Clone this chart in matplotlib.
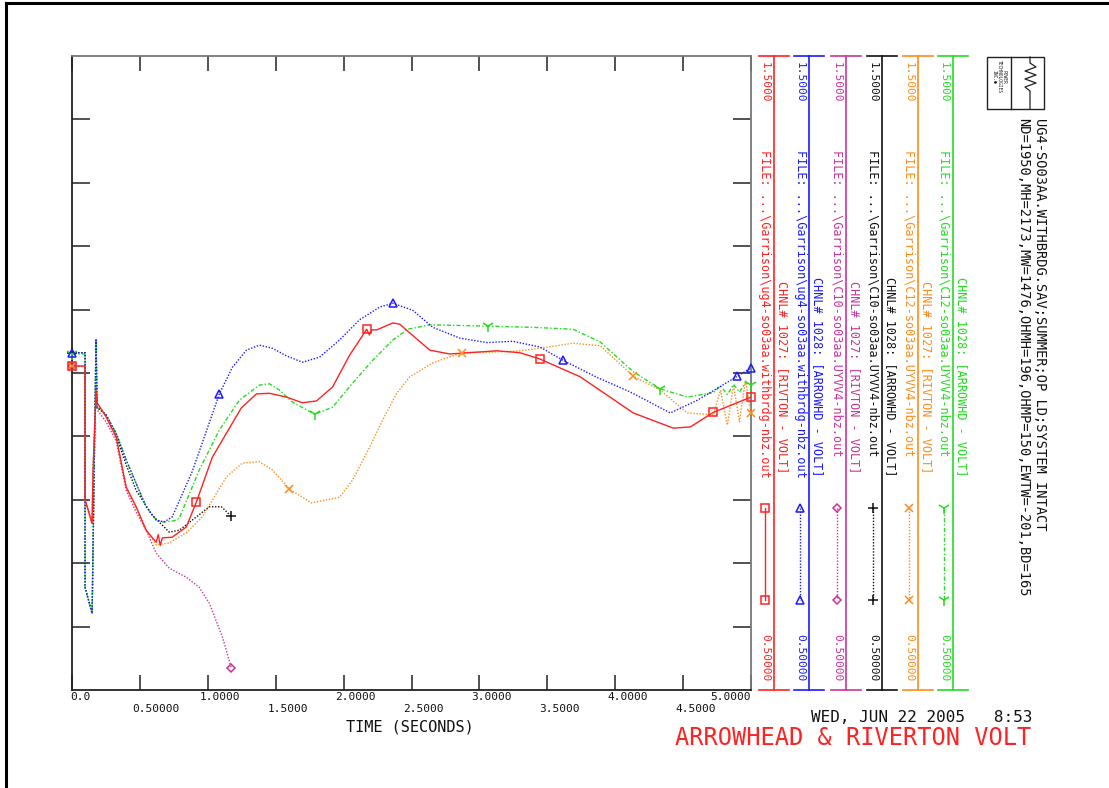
import matplotlib
matplotlib.use('Agg')
import matplotlib.pyplot as plt
from matplotlib.lines import Line2D
from matplotlib.patches import Rectangle
import matplotlib.transforms as mtransforms
import numpy as np

# ---------------- data ----------------
red_t = [0, 0.096, 0.096, 0.148, 0.155, 0.177, 0.185, 0.251, 0.325, 0.399, 0.472, 0.546, 0.620, 0.635, 0.650, 0.665,
         0.738, 0.841, 0.915, 1.033, 1.137, 1.247, 1.358, 1.454, 1.579, 1.697, 1.801, 1.919, 2.044, 2.170, 2.190,
         2.207, 2.244, 2.362, 2.413, 2.635, 2.782, 3.129, 3.299, 3.446, 3.742, 4.133, 4.428, 4.554, 4.723, 5.0]
red_v = [1.011, 1.011, 0.800, 0.763, 0.845, 0.972, 0.953, 0.931, 0.899, 0.820, 0.789, 0.752, 0.733, 0.745, 0.728, 0.740,
         0.741, 0.757, 0.796, 0.867, 0.905, 0.945, 0.967, 0.968, 0.962, 0.953, 0.956, 0.978, 1.028, 1.069, 1.060,
         1.068, 1.068, 1.079, 1.077, 1.036, 1.030, 1.035, 1.032, 1.022, 0.994, 0.937, 0.913, 0.915, 0.938, 0.962]
red_marks = [0, 0.915, 2.170, 3.446, 4.723, 5.0]

blue_t = [0, 0.096, 0.096, 0.148, 0.177, 0.185, 0.251, 0.325, 0.399, 0.472, 0.546, 0.620, 0.679, 0.738, 0.886,
          1.085, 1.181, 1.284, 1.380, 1.476, 1.579, 1.697, 1.823, 1.970, 2.118, 2.266, 2.362, 2.509, 2.657, 2.856,
          3.055, 3.247, 3.446, 3.616, 3.867, 4.111, 4.406, 4.605, 4.900, 5.0]
blue_v = [1.032, 1.032, 0.662, 0.621, 1.052, 0.946, 0.934, 0.905, 0.863, 0.826, 0.789, 0.768, 0.765, 0.773, 0.845,
          0.967, 1.009, 1.036, 1.044, 1.039, 1.027, 1.017, 1.025, 1.052, 1.084, 1.104, 1.110, 1.099, 1.072, 1.055,
          1.048, 1.050, 1.041, 1.020, 0.993, 0.970, 0.937, 0.957, 0.995, 1.008]
blue_marks = [0, 1.085, 2.362, 3.616, 4.900, 5.0]

magenta_t = [0, 0.096, 0.096, 0.148, 0.155, 0.177, 0.185, 0.251, 0.325, 0.399, 0.472, 0.546, 0.620, 0.716, 0.841,
             0.937, 1.011, 1.107, 1.173]
magenta_v = [1.011, 1.011, 0.800, 0.763, 0.845, 0.972, 0.942, 0.923, 0.893, 0.815, 0.781, 0.752, 0.716, 0.692, 0.678,
             0.662, 0.637, 0.584, 0.535]
magenta_marks = [0, 1.173]

black_t = [0, 0.096, 0.096, 0.148, 0.177, 0.185, 0.251, 0.325, 0.399, 0.472, 0.590, 0.716, 0.790, 0.886, 1.011,
           1.100, 1.173]
black_v = [1.032, 1.032, 0.662, 0.621, 1.052, 0.946, 0.934, 0.902, 0.855, 0.815, 0.776, 0.749, 0.752, 0.768, 0.789,
           0.789, 0.774]
black_marks = [0, 1.173]

orange_t = [0, 0.096, 0.096, 0.148, 0.155, 0.177, 0.185, 0.251, 0.325, 0.399, 0.472, 0.546, 0.620, 0.716, 0.841,
            0.959, 1.137, 1.255, 1.380, 1.476, 1.601, 1.764, 1.875, 1.970, 2.066, 2.192, 2.288, 2.391, 2.487, 2.657,
            2.871, 3.100, 3.299, 3.446, 3.690, 3.889, 4.133, 4.332, 4.531, 4.723, 4.775, 4.826, 4.871, 4.915, 4.959,
            5.0]
orange_v = [1.011, 1.011, 0.800, 0.763, 0.845, 0.972, 0.953, 0.931, 0.899, 0.820, 0.789, 0.752, 0.729, 0.732, 0.748,
            0.773, 0.836, 0.858, 0.860, 0.847, 0.817, 0.795, 0.800, 0.804, 0.831, 0.883, 0.926, 0.968, 0.994, 1.016,
            1.032, 1.033, 1.035, 1.039, 1.047, 1.043, 0.995, 0.973, 0.937, 0.934, 0.973, 0.918, 0.981, 0.923, 0.989,
            0.937]
orange_marks = [0, 1.601, 2.871, 4.133, 5.0]

green_t = [0, 0.096, 0.096, 0.148, 0.177, 0.185, 0.251, 0.325, 0.399, 0.472, 0.546, 0.620, 0.679, 0.753, 0.790,
           0.937, 1.085, 1.232, 1.380, 1.454, 1.528, 1.624, 1.786, 1.919, 2.066, 2.214, 2.362, 2.472, 2.635, 3.063,
           3.395, 3.690, 3.889, 4.133, 4.332, 4.531, 4.723, 4.775, 4.826, 4.871, 4.915, 4.959, 5.0]
green_v = [1.030, 1.030, 0.662, 0.621, 1.052, 0.946, 0.934, 0.905, 0.863, 0.826, 0.789, 0.768, 0.765, 0.767, 0.771,
           0.847, 0.910, 0.957, 0.981, 0.983, 0.973, 0.954, 0.935, 0.946, 0.984, 1.020, 1.052, 1.069, 1.076, 1.074,
           1.072, 1.069, 1.049, 1.002, 0.975, 0.962, 0.969, 0.980, 0.966, 0.982, 0.970, 0.985, 0.981]
green_marks = [0, 1.786, 3.063, 4.332, 5.0]

xtick_vals = [0.0, 0.5, 1.0, 1.5, 2.0, 2.5, 3.0, 3.5, 4.0, 4.5, 5.0]
xtick_labels = ["0.0", "0.50000", "1.0000", "1.5000", "2.0000", "2.5000", "3.0000", "3.5000", "4.0000", "4.5000", "5.0000"]
ytick_vals = [0.6, 0.7, 0.8, 0.9, 1.0, 1.1, 1.2, 1.3, 1.4]

legend_files = [r"FILE: ...\Garrison\ug4-so03aa.withbrdg-nbz.out",
                r"FILE: ...\Garrison\ug4-so03aa.withbrdg-nbz.out",
                r"FILE: ...\Garrison\C10-so03aa.UYVV4-nbz.out",
                r"FILE: ...\Garrison\C10-so03aa.UYVV4-nbz.out",
                r"FILE: ...\Garrison\C12-so03aa.UYVV4-nbz.out",
                r"FILE: ...\Garrison\C12-so03aa.UYVV4-nbz.out"]
legend_chnl = ["CHNL# 1027: [RIVTON - VOLT]", "CHNL# 1028: [ARROWHD - VOLT]",
               "CHNL# 1027: [RIVTON - VOLT]", "CHNL# 1028: [ARROWHD - VOLT]",
               "CHNL# 1027: [RIVTON - VOLT]", "CHNL# 1028: [ARROWHD - VOLT]"]
legend_max = "1.5000"
legend_min = "0.50000"

title1 = "UG4-SO03AA.WITHBRDG.SAV;SUMMER;OP LD;SYSTEM INTACT"
title2 = "ND=1950,MH=2173,MW=1476,OHMH=196,OHMP=150,EWTW=-201,BD=165"
date_text = "WED, JUN 22 2005   8:53"
main_title = "ARROWHEAD & RIVERTON VOLT"
xlabel = "TIME (SECONDS)"

# ---------------- figure ----------------
plt.rcParams['font.family'] = ['DejaVu Sans Mono']
W, H = 1109, 788
fig = plt.figure(figsize=(W / 100, H / 100), dpi=100)
fig.patch.set_facecolor('white')


def fx(px):
    return px / W


def fy(py):
    return 1 - py / H


AX_L, AX_R, AX_T, AX_B = 72, 751, 56, 690
ax = fig.add_axes([fx(AX_L), fy(AX_B), fx(AX_R) - fx(AX_L), fy(AX_T) - fy(AX_B)])
ax.set_xlim(0, 5)
ax.set_ylim(0.5, 1.5)

C_RED, C_BLUE, C_MAG, C_BLK, C_ORG, C_GRN = '#ff2222', '#1a1aff', '#cc3399', '#111111', '#ff8c1a', '#22dd22'
DOT = (0, (1.0, 1.2))
DASHDOT = (0, (3, 1.5, 1, 1.5))

series = [
    (magenta_t, magenta_v, magenta_marks, C_MAG, DOT, 'D', 4, 'none'),
    (black_t, black_v, black_marks, C_BLK, DOT, '+', 7, C_BLK),
    (orange_t, orange_v, orange_marks, C_ORG, DOT, 'x', 6, C_ORG),
    (green_t, green_v, green_marks, C_GRN, DASHDOT, '1', 9, C_GRN),
    (blue_t, blue_v, blue_marks, C_BLUE, DOT, '^', 6, 'none'),
    (red_t, red_v, red_marks, C_RED, '-', 's', 6, 'none'),
]
for t, v, marks, col, ls, mk, ms, mfc in series:
    ax.plot(t, v, color=col, lw=1.0, ls=ls, zorder=3)
    idx = [t.index(m) for m in marks]
    ax.plot([t[i] for i in idx], [v[i] for i in idx], ls='none', marker=mk, ms=ms,
            mfc=mfc, mec=col, mew=1.1, color=col, zorder=4, clip_on=False)

# axes style
for side in ['left', 'bottom']:
    ax.spines[side].set_color('#222222')
for side in ['top', 'right']:
    ax.spines[side].set_color('#777777')
for s in ax.spines.values():
    s.set_linewidth(1.3)
ax.set_xticks(xtick_vals)
ax.set_xticklabels([])
ax.set_yticks(ytick_vals)
ax.set_yticklabels([])
ax.tick_params(axis='x', direction='in', length=11, width=1.2, color='#333333', top=True, bottom=True)
ax.tick_params(axis='y', direction='in', length=13, width=1.2, color='#333333', left=True, right=True)

# x tick labels (two staggered rows)
trans = ax.get_xaxis_transform()
last = len(xtick_vals) - 1
for i, (xv, lab) in enumerate(zip(xtick_vals, xtick_labels)):
    dy = -7 if i % 2 == 0 else -19
    if i == 0:
        dx, ha = -2, 'left'
    elif i == last:
        dx, ha = 0, 'right'
    else:
        dx, ha = -8, 'left'
    off = mtransforms.ScaledTranslation(dx / 100, dy / 100, fig.dpi_scale_trans)
    ax.text(xv, 0, lab, transform=trans + off, ha=ha, va='center', fontsize=8, color='#111111')

fig.text(fx(410), fy(727), xlabel, ha='center', va='center', fontsize=11, color='#111111')


def fline(xs, ys, **kw):
    fig.add_artist(Line2D([fx(x) for x in xs], [fy(y) for y in ys], transform=fig.transFigure, **kw))


# legend columns
col_x = [774, 809, 846, 882, 918, 953]
leg = [(C_RED, '-', 's', 'none'), (C_BLUE, DOT, '^', 'none'), (C_MAG, DOT, 'D', 'none'),
       (C_BLK, DOT, '+', C_BLK), (C_ORG, DOT, 'x', C_ORG), (C_GRN, DASHDOT, '1', C_GRN)]
msz = {'s': 6, '^': 6, 'D': 4, '+': 7, 'x': 6, '1': 9}
for xc, (col, ls, mk, mfc), fname, chnl in zip(col_x, leg, legend_files, legend_chnl):
    fline([xc, xc], [AX_T, AX_B], color=col, lw=1.2)
    fline([xc - 15, xc + 15], [AX_T, AX_T], color=col, lw=1.2)
    fline([xc - 15, xc + 15], [AX_B, AX_B], color=col, lw=1.2)
    tx = xc - 9
    fig.text(fx(tx), fy(62), legend_max, rotation=-90, ha='center', va='top', fontsize=8, color=col)
    fig.text(fx(tx), fy(150), fname, rotation=-90, ha='center', va='top', fontsize=8.5, color=col)
    fig.text(fx(tx), fy(681), legend_min, rotation=-90, ha='center', va='bottom', fontsize=8, color=col)
    fig.text(fx(xc + 8), fy(377), chnl, rotation=-90, ha='center', va='center', fontsize=8.5, color=col)
    fline([tx, tx], [508, 600], color=col, lw=1.0, ls=ls)
    fline([tx, tx], [508, 600], color=col, ls='none', marker=mk, ms=msz[mk], mfc=mfc, mec=col, mew=1.1)

# title lines at right
fig.text(fx(1040), fy(118), title1, rotation=-90, ha='center', va='top', fontsize=9.9, color='#111111')
fig.text(fx(1023), fy(118), title2, rotation=-90, ha='center', va='top', fontsize=9.9, color='#111111')

# logo
fig.add_artist(Rectangle((fx(987), fy(109)), fx(1044) - fx(987), fy(57) - fy(109),
                         transform=fig.transFigure, fill=False, ec='#222222', lw=1.0))
fline([1011, 1011], [57, 109], color='#222222', lw=1.0)
zz_x = [1030, 1030, 1036, 1025, 1036, 1025, 1036, 1025, 1030, 1030]
zz_y = [57, 63, 67, 71, 75, 79, 83, 87, 91, 109]
fline(zz_x, zz_y, color='#222222', lw=0.9)
fig.text(fx(999), fy(60), "POWER\nTECHNOLOGIES\nINC.\u25cf", rotation=-90, ha='center', va='top',
         fontsize=3.3, color='#222222', linespacing=1.0)

# bottom texts
fig.text(fx(1032), fy(717), date_text, ha='right', va='center', fontsize=11.5, color='#111111')
fig.text(fx(1031), fy(738), main_title, ha='right', va='center', fontsize=17, color=C_RED)

# figure frame (left and top)
fline([6, 6], [3, 788], color='black', lw=2.2)
fline([6, 1109], [3, 3], color='black', lw=2.2)

fig.savefig('out.png', dpi=100, facecolor='white')
